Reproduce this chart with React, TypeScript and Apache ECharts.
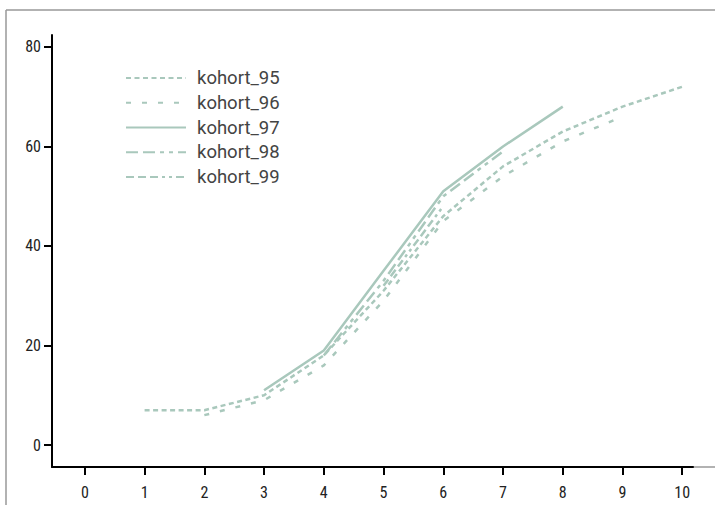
import React, { useEffect, useRef } from "react";
import * as echarts from "echarts";

const years = [0, 1, 2, 3, 4, 5, 6, 7, 8, 9, 10];
const yTicks = [0, 20, 40, 60, 80];
const seriesNames = ["kohort_95", "kohort_96", "kohort_97", "kohort_98", "kohort_99"];
const kohort95 = [null, 7, 7, 10, 18, 31, 46, 56, 63, 68, 72];
const kohort96 = [null, null, 6, 9, 16, 29, 45, 54, 61, 66, null];
const kohort97 = [null, null, null, 11, 19, 35, 51, 60, 68, null, null];
const kohort98 = [null, null, null, null, 18, 33, 50, 59, null, null, null];
const kohort99 = [null, null, null, null, null, 32, 48, null, null, null, null];

const dashes: (number[] | "solid")[] = [
  [5, 3.5],
  [5, 11],
  "solid",
  [12, 5, 12, 5, 4, 5, 4, 5],
  [8, 4, 8, 4, 8, 4, 3, 4, 3, 4],
];

const LINE_COLOR = "#a9c8bc";
const AXIS_FONT = '"Roboto Condensed", "Liberation Sans Narrow", "DejaVu Sans Condensed", Roboto, sans-serif';

export default function App() {
  const ref = useRef<HTMLDivElement>(null);
  useEffect(() => {
    if (!ref.current) return;
    const chart = echarts.init(ref.current, undefined, { renderer: "svg" });
    const all = [kohort95, kohort96, kohort97, kohort98, kohort99];
    const series = all.map((vals, i) => ({
      name: seriesNames[i],
      type: "line",
      symbol: "none",
      data: years
        .map((x, j) => [x, vals[j]])
        .filter((p) => p[1] !== null),
      lineStyle: { color: LINE_COLOR, width: 2.5, type: dashes[i] },
      itemStyle: { color: LINE_COLOR },
    }));
    chart.setOption({
      animation: false,
      backgroundColor: "#ffffff",
      grid: { left: 52, top: 35, right: 22, bottom: 38, containLabel: false },
      legend: {
        orient: "vertical",
        left: 120,
        top: 63,
        itemWidth: 60,
        itemHeight: 14,
        itemGap: 4.75,
        itemStyle: { opacity: 0 },
        textStyle: {
          fontSize: 18.5,
          lineHeight: 20,
          color: "#444444",
          fontFamily: "Roboto, sans-serif",
          padding: [0, 0, 0, 6],
        },
        data: seriesNames,
      },
      xAxis: {
        type: "value",
        min: -0.55,
        max: 10.18,
        splitLine: { show: false },
        axisLine: { onZero: false, lineStyle: { color: "#000", width: 2 } },
        axisTick: { length: 8, lineStyle: { color: "#000", width: 2 }, customValues: years },
        axisLabel: {
          customValues: years,
          color: "#222",
          fontSize: 16,
          fontFamily: AXIS_FONT,
          margin: 17,
        },
      },
      yAxis: {
        type: "value",
        min: -4.42,
        max: 82.4,
        splitLine: { show: false },
        axisLine: { onZero: false, lineStyle: { color: "#000", width: 2 } },
        axisTick: { length: 8, lineStyle: { color: "#000", width: 2 }, customValues: yTicks },
        axisLabel: {
          customValues: yTicks,
          color: "#222",
          fontSize: 16,
          fontFamily: AXIS_FONT,
          margin: 11,
        },
      },
      graphic: [
        { type: "line", shape: { x1: 6, y1: 10, x2: 715, y2: 10 }, style: { stroke: "#999", lineWidth: 1.5 } },
        { type: "line", shape: { x1: 6, y1: 10, x2: 6, y2: 505 }, style: { stroke: "#999", lineWidth: 1.5 } },
        { type: "line", shape: { x1: 693, y1: 467, x2: 715, y2: 467 }, style: { stroke: "#999", lineWidth: 1.5 } },
      ],
      series,
    });
    return () => chart.dispose();
  }, []);
  return (
    <div
      ref={ref}
      style={{ position: "fixed", left: 0, top: 0, width: 715, height: 505 }}
    />
  );
}
